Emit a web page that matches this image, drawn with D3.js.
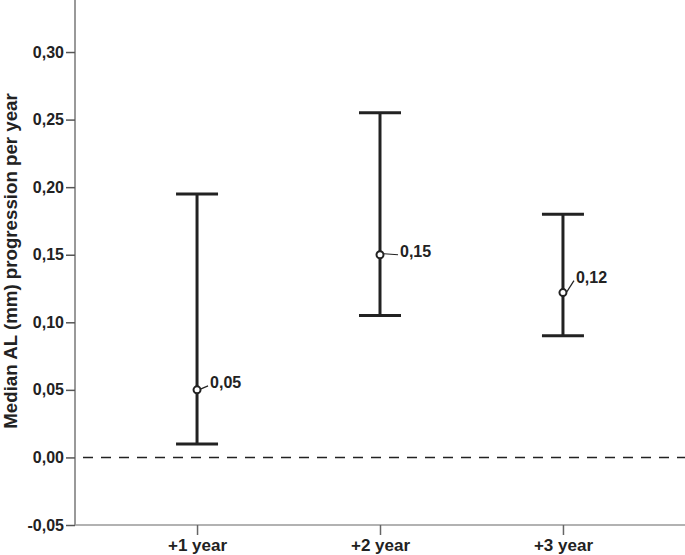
<!DOCTYPE html>
<html>
<head>
<meta charset="utf-8">
<script src="https://cdn.jsdelivr.net/npm/d3@7"></script>
<style>
  body { margin: 0; background: #fff; }
  text { font-family: "Liberation Sans", Arial, sans-serif; font-weight: bold; fill: #222; }
</style>
</head>
<body>
<div id="chart"></div>
<script>
var categories = ["+1 year", "+2 year", "+3 year"];
var medians = [0.05, 0.15, 0.122];
var lowerCI = [0.01, 0.105, 0.09];
var upperCI = [0.195, 0.255, 0.18];
var pointLabels = ["0,05", "0,15", "0,12"];
var yTicks = [-0.05, 0, 0.05, 0.10, 0.15, 0.20, 0.25, 0.30];

var margin = {top: 0, right: 0, bottom: 30, left: 75},
    width = 685 - margin.left - margin.right,
    height = 555 - margin.top - margin.bottom;

var svg = d3.select("#chart")
  .append("svg")
    .attr("width", width + margin.left + margin.right)
    .attr("height", height + margin.top + margin.bottom)
  .append("g")
    .attr("transform", "translate(" + margin.left + "," + margin.top + ")");

var data = categories.map(function(c, i) {
  return {cat: c, med: medians[i], lo: lowerCI[i], hi: upperCI[i], label: pointLabels[i]};
});

var x = d3.scalePoint()
  .domain(categories)
  .range([0, width])
  .padding(0.667);

var y = d3.scaleLinear()
  .domain([-0.05, 0.3385])
  .range([height, 0]);

var fmt = function(d) { return d3.format(".2f")(d).replace(".", ",").replace("−", "-"); };

// y axis
var yAxis = svg.append("g")
  .call(d3.axisLeft(y).tickValues(yTicks).tickSize(9).tickPadding(2).tickFormat(fmt));
yAxis.select(".domain").attr("stroke", "#777").attr("stroke-width", 1.5).attr("d", "M0," + height + "V0");
yAxis.selectAll(".tick line").attr("stroke", "#555").attr("stroke-width", 1.5);
yAxis.selectAll(".tick text").style("font-size", "16px").attr("fill", "#222");

// x axis
var xAxis = svg.append("g")
  .attr("transform", "translate(0," + height + ")")
  .call(d3.axisBottom(x).tickSize(10).tickPadding(4));
xAxis.select(".domain").attr("stroke", "#999").attr("stroke-width", 1.5).attr("d", "M0,0H" + width);
xAxis.selectAll(".tick line").attr("stroke", "#666").attr("stroke-width", 1.5);
xAxis.selectAll(".tick text").style("font-size", "17px").attr("fill", "#222");

// reference line at 0
svg.append("line")
  .attr("x1", 0)
  .attr("x2", width)
  .attr("y1", y(0))
  .attr("y2", y(0))
  .attr("stroke", "#222")
  .attr("stroke-width", 1.5)
  .attr("stroke-dasharray", "10,8")
  .attr("stroke-dashoffset", -8);

// error bars
var bars = svg.selectAll(".bar")
  .data(data)
  .enter()
  .append("g");

bars.append("line")
  .attr("x1", function(d) { return x(d.cat); })
  .attr("x2", function(d) { return x(d.cat); })
  .attr("y1", function(d) { return y(d.lo); })
  .attr("y2", function(d) { return y(d.hi); })
  .attr("stroke", "#222")
  .attr("stroke-width", 3);

["lo", "hi"].forEach(function(k) {
  bars.append("line")
    .attr("x1", function(d) { return x(d.cat) - 21; })
    .attr("x2", function(d) { return x(d.cat) + 21; })
    .attr("y1", function(d) { return y(d[k]); })
    .attr("y2", function(d) { return y(d[k]); })
    .attr("stroke", "#222")
    .attr("stroke-width", 3);
});

// label leader lines + labels
var labelOff = [{dx: 13, dy: -8}, {dx: 20, dy: -4}, {dx: 13, dy: -16}];

bars.append("line")
  .attr("x1", function(d) { return x(d.cat) + 4; })
  .attr("y1", function(d) { return y(d.med) - 1; })
  .attr("x2", function(d, i) { return x(d.cat) + labelOff[i].dx - 2; })
  .attr("y2", function(d, i) { return y(d.med) + labelOff[i].dy + 4; })
  .attr("stroke", "#222")
  .attr("stroke-width", 1.2);

bars.append("circle")
  .attr("cx", function(d) { return x(d.cat); })
  .attr("cy", function(d) { return y(d.med); })
  .attr("r", 3.5)
  .attr("fill", "#fff")
  .attr("stroke", "#222")
  .attr("stroke-width", 2);

bars.append("text")
  .attr("x", function(d, i) { return x(d.cat) + labelOff[i].dx; })
  .attr("y", function(d, i) { return y(d.med) + labelOff[i].dy + 6; })
  .style("font-size", "16px")
  .text(function(d) { return d.label; });

// y axis title
svg.append("text")
  .attr("transform", "rotate(-90)")
  .attr("x", -261)
  .attr("y", -margin.left + 17)
  .attr("text-anchor", "middle")
  .style("font-size", "18.7px")
  .text("Median AL (mm) progression per year");
</script>
</body>
</html>
